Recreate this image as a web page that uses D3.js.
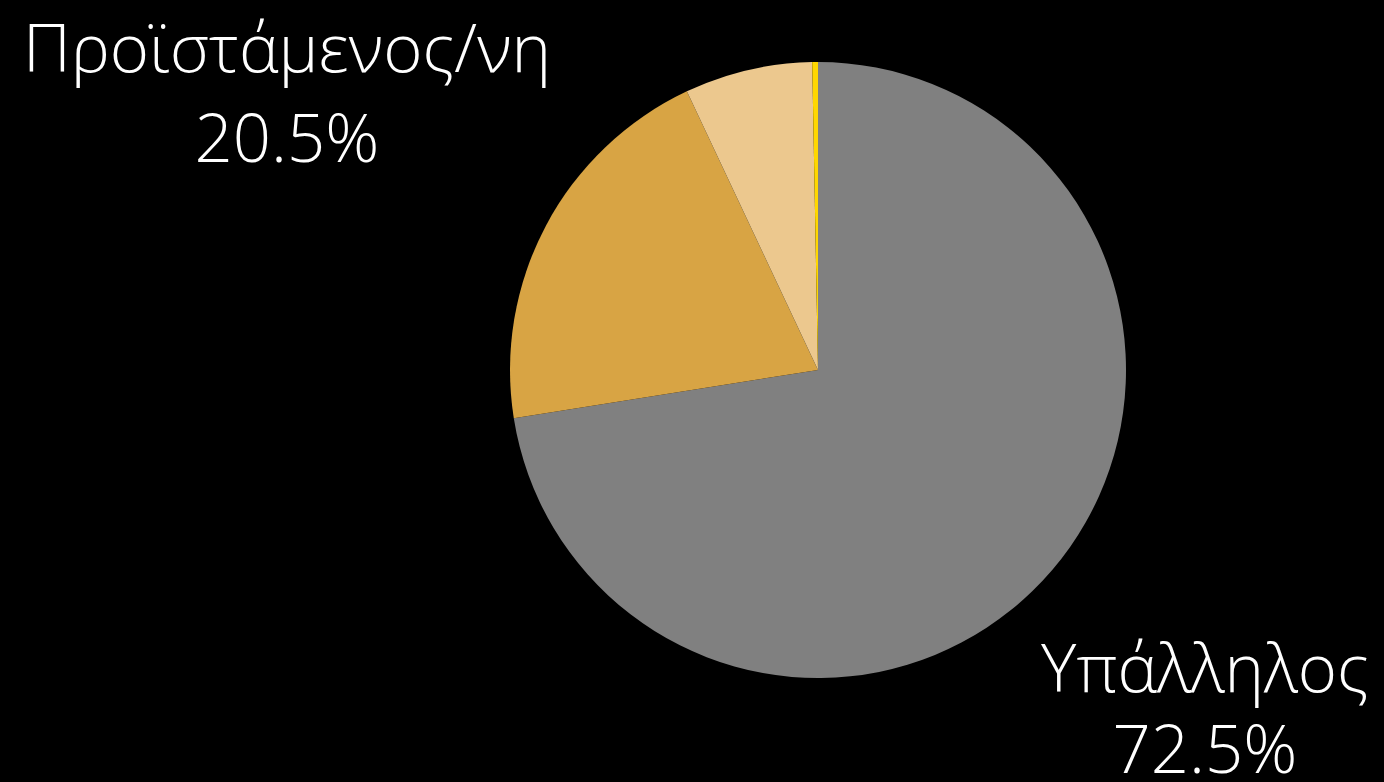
<!DOCTYPE html>
<html>
<head>
<meta charset="utf-8">
<script src="https://cdn.jsdelivr.net/npm/d3@7"></script>
<style>
  html, body { margin: 0; padding: 0; background: #000; }
</style>
</head>
<body>
<div id="chart"></div>
<script>
// slice data, clockwise from 12 o'clock
const categories = ["Υπάλληλος", "Προϊστάμενος/νη", "Διευθυντής/ρια", "Άλλο"];
const shares = [72.5, 20.5, 6.7, 0.3];
const colors = ["#808080", "#d8a444", "#ecc88e", "#ffd700"];
const shownLabels = ["Υπάλληλος", "Προϊστάμενος/νη"];

const width = 1384, height = 782;
const cx = 818, cy = 370, radius = 308;

const svg = d3.select("#chart")
    .append("svg")
    .attr("width", width)
    .attr("height", height)
    .style("background", "#000");

const data = categories.map((c, i) => ({ name: c, value: shares[i], color: colors[i] }));

const pie = d3.pie()
    .value(d => d.value)
    .sort(null);

const arc = d3.arc()
    .innerRadius(0)
    .outerRadius(radius);

const g = svg.append("g")
    .attr("transform", `translate(${cx},${cy})`);

g.selectAll("path")
    .data(pie(data))
    .enter()
    .append("path")
    .attr("d", arc)
    .attr("fill", d => d.data.color);

// outside labels placed like the original
const labelPos = {
    "Υπάλληλος": { x: 1205, y1: 692, y2: 773 },
    "Προϊστάμενος/νη": { x: 287, y1: 72, y2: 162 }
};

data.filter(d => shownLabels.includes(d.name)).forEach(d => {
    const p = labelPos[d.name];
    const t = svg.append("text")
        .attr("text-anchor", "middle")
        .attr("fill", "#fff")
        .style("font-family", "'Open Sans', 'Noto Sans', sans-serif")
        .style("font-weight", 300)
        .style("font-size", "67px");
    t.append("tspan").attr("x", p.x).attr("y", p.y1).text(d.name);
    t.append("tspan").attr("x", p.x).attr("y", p.y2).text(d.value.toFixed(1) + "%");
});
</script>
</body>
</html>
